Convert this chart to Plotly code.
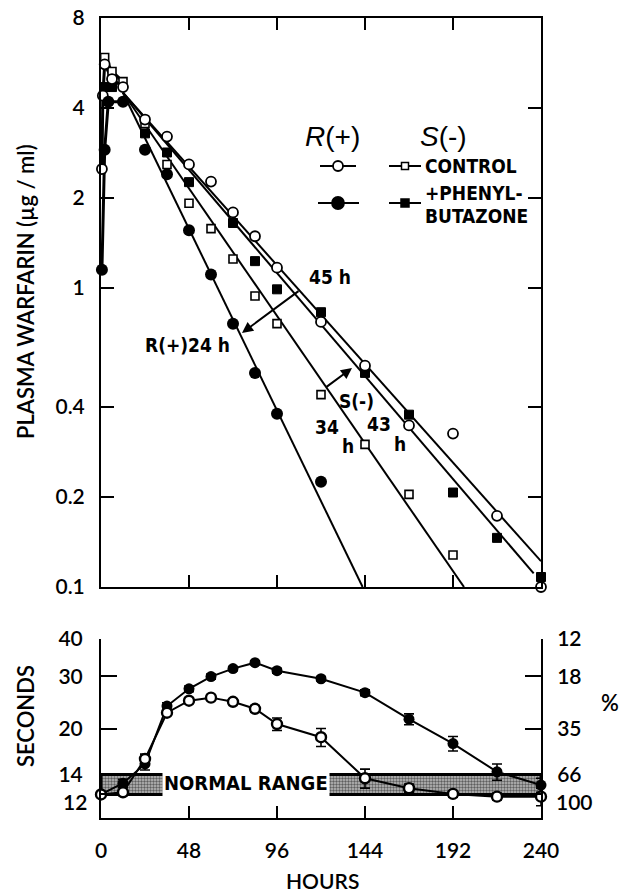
import math
import plotly.graph_objects as go

W, H = 630, 894

# ---------------- Top panel: plasma warfarin (ug/ml) vs hours ----------------
rp_ctrl_t = [0.5, 1, 2, 6, 12, 24, 36, 48, 60, 72, 84, 96, 120, 144, 168, 192, 216, 240]
rp_ctrl_v = [2.5, 4.4, 5.6, 5.0, 4.7, 3.66, 3.21, 2.59, 2.27, 1.79, 1.49, 1.17, 0.77, 0.55, 0.347, 0.326, 0.173, 0.10]

rp_pb_t = [0.5, 2, 4, 12, 24, 36, 48, 60, 72, 84, 96, 120, 144]
rp_pb_v = [1.15, 2.9, 4.2, 4.2, 2.9, 2.4, 1.56, 1.11, 0.76, 0.52, 0.38, 0.225, 0.09]

sm_ctrl_t = [2, 6, 12, 24, 36, 48, 60, 72, 84, 96, 120, 144, 168, 192]
sm_ctrl_v = [5.9, 5.3, 4.9, 3.55, 2.59, 1.92, 1.58, 1.25, 0.94, 0.76, 0.44, 0.30, 0.204, 0.128]

sm_pb_t = [2, 6, 24, 36, 48, 72, 84, 96, 120, 144, 168, 192, 216, 240]
sm_pb_v = [4.7, 4.7, 3.29, 2.84, 2.26, 1.65, 1.23, 0.99, 0.83, 0.52, 0.377, 0.207, 0.146, 0.108]

# fitted elimination lines (start, end)
fit_rp_ctrl_t = [12, 240]
fit_rp_ctrl_v = [4.5, 0.122]
fit_sm_pb_t = [12, 236]
fit_sm_pb_v = [4.5, 0.111]
fit_sm_ctrl_t = [12, 198]
fit_sm_ctrl_v = [4.5, 0.1]
fit_rp_pb_t = [12, 142.7]
fit_rp_pb_v = [4.5, 0.1]

conc_ticks = [0.1, 0.2, 0.4, 1, 2, 4, 8]
conc_ticktext = ["0.1", "0.2", "0.4", "1", "2", "4", "8"]
hour_ticks = [0, 48, 96, 144, 192, 240]
hour_ticktext = ["0", "48", "96", "144", "192", "240"]

# ---------------- Bottom panel: prothrombin time ----------------
pt_t = [0, 12, 24, 36, 48, 60, 72, 84, 96, 120, 144, 168, 192, 216, 240]
pt_pb = [12.0, 13.1, 15.2, 23.8, 27.2, 29.9, 31.8, 33.3, 31.3, 29.4, 26.4, 21.5, 17.8, 14.3, 12.9]
pt_pb_err = [0.2, 0.4, 0.7, 0.6, 0.6, 0.6, 0.5, 0.5, 0.6, 0.5, 0.6, 0.9, 1.0, 0.9, 0.7]
pt_ctrl = [12.0, 12.2, 15.8, 22.6, 24.8, 25.4, 24.6, 23.3, 20.7, 18.7, 13.6, 12.6, 12.05, 11.8, 11.8]
pt_ctrl_err = [0.2, 0.3, 0.6, 0.4, 0.5, 0.5, 0.5, 0.6, 1.0, 1.3, 1.0, 0.4, 0.3, 0.3, 0.8]

normal_range = [12, 14]
sec_ticks = [12, 14, 20, 30, 40]
sec_ticktext = ["", "14", "20", "30", "40"]     # "12" placed as a separate label below
pct_ticktext = ["", "66", "35", "18", "12"]     # "100" placed as a separate label below


def PX(x):
    return x / W


def PY(y):
    return 1 - y / H


BASE_FONT = "Lato, 'Open Sans', 'DejaVu Sans', sans-serif"
NARROW = "'Liberation Sans Narrow', 'DejaVu Sans Condensed', 'Arial Narrow', sans-serif"
TW = 600

fig = go.Figure()

ln = dict(color="black", width=2)

# early (absorption) segments
for t, v in [(rp_ctrl_t, rp_ctrl_v), (rp_pb_t, rp_pb_v), (sm_ctrl_t, sm_ctrl_v), (sm_pb_t, sm_pb_v)]:
    et = [a for a in t if a <= 12]
    ev = [b for a, b in zip(t, v) if a <= 12]
    fig.add_trace(go.Scatter(x=et, y=ev, mode="lines", line=dict(color="black", width=3),
                             xaxis="x", yaxis="y", showlegend=False, hoverinfo="skip"))

# fitted lines
for ft, fv in [(fit_rp_ctrl_t, fit_rp_ctrl_v), (fit_sm_pb_t, fit_sm_pb_v),
               (fit_sm_ctrl_t, fit_sm_ctrl_v), (fit_rp_pb_t, fit_rp_pb_v)]:
    fig.add_trace(go.Scatter(x=ft, y=fv, mode="lines", line=ln, xaxis="x", yaxis="y",
                             showlegend=False, hoverinfo="skip"))

# markers
fig.add_trace(go.Scatter(x=sm_ctrl_t, y=sm_ctrl_v, mode="markers",
                         marker=dict(symbol="square", size=8, color="white", line=dict(color="black", width=1.6)),
                         xaxis="x", yaxis="y", showlegend=False, cliponaxis=False))
fig.add_trace(go.Scatter(x=sm_pb_t, y=sm_pb_v, mode="markers",
                         marker=dict(symbol="square", size=9, color="black", line=dict(color="black", width=1)),
                         xaxis="x", yaxis="y", showlegend=False, cliponaxis=False))
fig.add_trace(go.Scatter(x=rp_ctrl_t, y=rp_ctrl_v, mode="markers",
                         marker=dict(symbol="circle", size=10, color="white", line=dict(color="black", width=1.8)),
                         xaxis="x", yaxis="y", showlegend=False, cliponaxis=False))
fig.add_trace(go.Scatter(x=rp_pb_t, y=rp_pb_v, mode="markers",
                         marker=dict(symbol="circle", size=12, color="black"),
                         xaxis="x", yaxis="y", showlegend=False, cliponaxis=False))

# ---- bottom panel ----
band_x = [pt_t[0], pt_t[-1], pt_t[-1], pt_t[0], pt_t[0]]
band_y = [normal_range[0], normal_range[0], normal_range[1], normal_range[1], normal_range[0]]
fig.add_trace(go.Scatter(x=band_x, y=band_y, mode="lines", fill="toself",
                         fillcolor="rgba(0,0,0,0)",
                         fillpattern=dict(shape=".", fgcolor="black", bgcolor="#bdbdbd", size=3, solidity=0.5),
                         line=dict(color="black", width=3), xaxis="x2", yaxis="y2",
                         showlegend=False, hoverinfo="skip"))

fig.add_trace(go.Scatter(x=pt_t, y=pt_pb, mode="lines+markers",
                         line=dict(color="black", width=2),
                         marker=dict(symbol="circle", size=11, color="black"),
                         error_y=dict(type="data", array=pt_pb_err, color="black", thickness=1.6, width=5),
                         xaxis="x2", yaxis="y2", showlegend=False, cliponaxis=False))
fig.add_trace(go.Scatter(x=pt_t, y=pt_ctrl, mode="lines+markers",
                         line=dict(color="black", width=2),
                         marker=dict(symbol="circle", size=10, color="white", line=dict(color="black", width=2.4)),
                         error_y=dict(type="data", array=pt_ctrl_err, color="black", thickness=1.6, width=5),
                         xaxis="x2", yaxis="y2", showlegend=False, cliponaxis=False))
# dummy for right axis
fig.add_trace(go.Scatter(x=[None], y=[None], xaxis="x2", yaxis="y3", showlegend=False, hoverinfo="skip"))

tickfont = dict(family=BASE_FONT, size=21, color="black", weight=TW)
axcommon = dict(showline=True, linecolor="black", linewidth=2, ticks="inside", tickcolor="black",
                tickwidth=2, showgrid=False, zeroline=False, tickfont=tickfont, automargin=False)

xdom = [PX(101), PX(541)]
fig.update_layout(
    width=W, height=H, autosize=False,
    margin=dict(l=0, r=0, t=0, b=0, pad=0),
    paper_bgcolor="white", plot_bgcolor="white",
    font=dict(family=BASE_FONT, color="black"),
    showlegend=False,
    xaxis=dict(domain=xdom, range=[0, 240], tickvals=hour_ticks, showticklabels=False,
               mirror="ticks", ticklen=12, anchor="y", **axcommon),
    yaxis=dict(domain=[PY(587), PY(18)], type="log", range=[-1, math.log10(8)],
               tickvals=conc_ticks, ticktext=conc_ticktext, mirror="ticks", ticklen=13,
               ticklabelstandoff=10, anchor="x", **axcommon),
    xaxis2=dict(domain=xdom, range=[0, 240], tickvals=hour_ticks, ticktext=hour_ticktext,
                ticklen=12, ticklabelstandoff=13, anchor="y2", **axcommon),
    yaxis2=dict(domain=[PY(818), PY(639)], type="log", range=[1, math.log10(40)],
                tickvals=sec_ticks, ticktext=sec_ticktext, ticklen=16, ticklabelstandoff=12,
                anchor="x2", **axcommon),
    yaxis3=dict(domain=[PY(818), PY(639)], type="log", range=[1, math.log10(40)],
                tickvals=sec_ticks, ticktext=pct_ticktext, ticklen=16, ticklabelstandoff=10,
                overlaying="y2", side="right", anchor="x2", **axcommon),
)

ann = []


def text(x, y, s, size=20, family=NARROW, xanchor="center", yanchor="middle", angle=0, bg=None,
         bold=False, weight=None):
    f = dict(family=family, size=size, color="black")
    if weight:
        f["weight"] = weight
    d = dict(x=PX(x), y=PY(y), xref="paper", yref="paper", text=(f"<b>{s}</b>" if bold else s),
             showarrow=False, xanchor=xanchor, yanchor=yanchor, textangle=angle, font=f)
    if bg:
        d["bgcolor"] = bg
    ann.append(d)


def arrow(x_tip, y_tip, x_tail, y_tail):
    ann.append(dict(x=PX(x_tip), y=PY(y_tip), xref="paper", yref="paper", text="",
                    showarrow=True, ax=x_tail - x_tip, ay=y_tail - y_tip, axref="pixel", ayref="pixel",
                    arrowhead=2, arrowsize=1.1, arrowwidth=2, arrowcolor="black"))


# axis titles
text(25, 292, "PLASMA WARFARIN (\u00b5g / ml)", size=22, family=BASE_FONT, angle=-90, weight=TW)
text(25, 716, "SECONDS", size=22, family=BASE_FONT, angle=-90, weight=TW)
text(610, 702, "%", size=22, family=BASE_FONT, weight=TW)
text(322, 880, "HOURS", size=21, family=BASE_FONT, weight=TW)

# separated tick labels for the lowest ticks
text(89, 801, "12", size=21, family=BASE_FONT, xanchor="right", weight=TW)
text(554, 801, "100", size=21, family=BASE_FONT, xanchor="left", weight=TW)

# legend
text(332, 137, "<i>R</i>(+)", size=28, family="'Liberation Sans', Arial, sans-serif")
text(443, 137, "<i>S</i>(-)", size=28, family="'Liberation Sans', Arial, sans-serif")
text(423, 166, "CONTROL", size=19, xanchor="left", bold=True)
text(423, 193, "+PHENYL-", size=19, xanchor="left", bold=True)
text(423, 216, "BUTAZONE", size=19, xanchor="left", bold=True)

# half-life annotations
text(330, 277, "45 h", size=19, bold=True)
text(187, 345, "R(+)24 h", size=19, bold=True)
text(356, 401, "S(-)", size=19, bold=True)
text(327, 427, "34", size=19, bold=True)
text(348, 446, "h", size=19, bold=True)
text(379, 424, "43", size=19, bold=True)
text(400, 444, "h", size=19, bold=True)
arrow(242, 333, 300, 290)
arrow(352, 368, 325, 388)

# normal range label
text(246, 783, "NORMAL RANGE", size=20, bold=True, bg="white")

fig.update_layout(annotations=ann)

# legend glyphs (shapes in paper coords)
shapes = []


def hline(x0, x1, y):
    shapes.append(dict(type="line", xref="paper", yref="paper", x0=PX(x0), x1=PX(x1), y0=PY(y), y1=PY(y),
                       line=dict(color="black", width=2)))


def circ(cx, cy, r, filled):
    shapes.append(dict(type="circle", xref="paper", yref="paper", x0=PX(cx - r), x1=PX(cx + r),
                       y0=PY(cy + r), y1=PY(cy - r), fillcolor="black" if filled else "white",
                       line=dict(color="black", width=1.8)))


def sq(cx, cy, r, filled):
    shapes.append(dict(type="rect", xref="paper", yref="paper", x0=PX(cx - r), x1=PX(cx + r),
                       y0=PY(cy + r), y1=PY(cy - r), fillcolor="black" if filled else "white",
                       line=dict(color="black", width=1.5)))


hline(320, 356, 166); circ(338, 166, 5, False)
hline(389, 421, 166); sq(405, 166, 3.5, False)
hline(318, 359, 203); circ(338, 203, 6, True)
hline(389, 421, 203); sq(405, 203, 4, True)
fig.update_layout(shapes=shapes)

fig.write_html("out.html", config={"displayModeBar": False},
               post_script="document.body.style.margin='0px';document.body.style.overflow='hidden';")
